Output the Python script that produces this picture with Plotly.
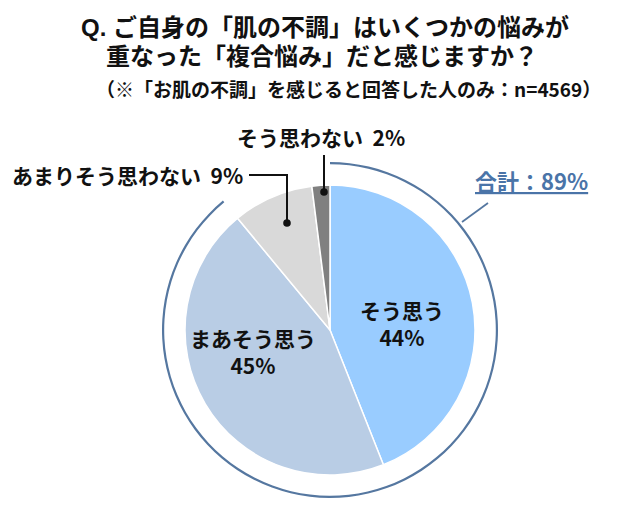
import plotly.graph_objects as go

# ---- data ----
categories = ["そう思う", "まあそう思う", "あまりそう思わない", "そう思わない"]
values = [44, 45, 9, 2]
colors = ["#99CCFF", "#B9CDE5", "#D9D9D9", "#808080"]
sample_n = 4569

title_line1 = "Q. ご自身の「肌の不調」はいくつかの悩みが"
title_line2 = "重なった「複合悩み」だと感じますか？"
subtitle = f"（※「お肌の不調」を感じると回答した人のみ：n={sample_n}）"
total_label = "合計"

W, H = 640, 511
FONT = "Noto Sans CJK JP"
TITLE_FONT = "Liberation Sans, Noto Sans CJK JP"
RING = "#5577A0"
TOTAL_C = "#4A74A8"


def px(x):
    return x / W


def py(y):
    return 1 - y / H


cx, cy, r_pie, r_ring = 330, 330, 145, 168

agree_total = values[0] + values[1]
rest_total = sum(values) - agree_total

fig = go.Figure()
fig.add_trace(go.Pie(
    labels=categories, values=values, sort=False, direction="clockwise",
    rotation=0, marker=dict(colors=colors, line=dict(color="white", width=1.5)),
    textinfo="none", hoverinfo="label+percent", showlegend=False,
    domain=dict(x=[px(cx - r_pie), px(cx + r_pie)], y=[py(cy + r_pie), py(cy - r_pie)]),
))
fig.add_trace(go.Pie(
    labels=[total_label, "other"], values=[agree_total, rest_total], sort=False,
    direction="clockwise", rotation=0, hole=1 - 2.2 / r_ring,
    marker=dict(colors=[RING, "rgba(0,0,0,0)"], line=dict(width=0)),
    textinfo="none", hoverinfo="skip", showlegend=False,
    domain=dict(x=[px(cx - r_ring), px(cx + r_ring)], y=[py(cy + r_ring), py(cy - r_ring)]),
))

ann = []


def text(x, y, s, size, color="#111111", xanchor="center", family=FONT):
    ann.append(dict(x=px(x), y=py(y), xref="paper", yref="paper", text=s,
                    showarrow=False, xanchor=xanchor, yanchor="middle",
                    font=dict(family=family, size=size, color=color)))


text(325, 27, f"<b>{title_line1}</b>", 24, family=TITLE_FONT)
text(322, 56, f"<b>{title_line2}</b>", 24, family=TITLE_FONT)
text(348, 89, f"<b>{subtitle}</b>", 19)

text(321, 137, f"<b>{categories[3]}  {values[3]}%</b>", 21)
text(10, 175, f"<b>{categories[2]}  {values[2]}%</b>", 21, xanchor="left")
text(531, 180, f"<b><u>{total_label}：{agree_total}%</u></b>", 22, color=TOTAL_C)
text(402, 323, f"<b>{categories[0]}<br>{values[0]}%</b>", 21)
text(253, 351, f"<b>{categories[1]}<br>{values[1]}%</b>", 21)

shapes = []


def line(x0, y0, x1, y1, color="#111111", width=2):
    shapes.append(dict(type="line", xref="paper", yref="paper",
                       x0=px(x0), y0=py(y0), x1=px(x1), y1=py(y1),
                       line=dict(color=color, width=width)))


def dot(x, y, rr=3.8):
    shapes.append(dict(type="circle", xref="paper", yref="paper",
                       x0=px(x - rr), x1=px(x + rr), y0=py(y + rr), y1=py(y - rr),
                       fillcolor="#111111", line=dict(width=0)))


line(324, 155, 324, 192)
dot(324, 192)
line(249, 175, 287, 175)
line(287, 174, 287, 223)
dot(287, 223)
line(488, 203, 462, 222, color=RING, width=1.8)

fig.update_layout(
    width=W, height=H, margin=dict(l=0, r=0, t=0, b=0),
    paper_bgcolor="white", plot_bgcolor="white",
    annotations=ann, shapes=shapes,
    font=dict(family=FONT),
)

fig.write_html("out.html", config={"displayModeBar": False},
               post_script="document.body.style.margin='0';")
